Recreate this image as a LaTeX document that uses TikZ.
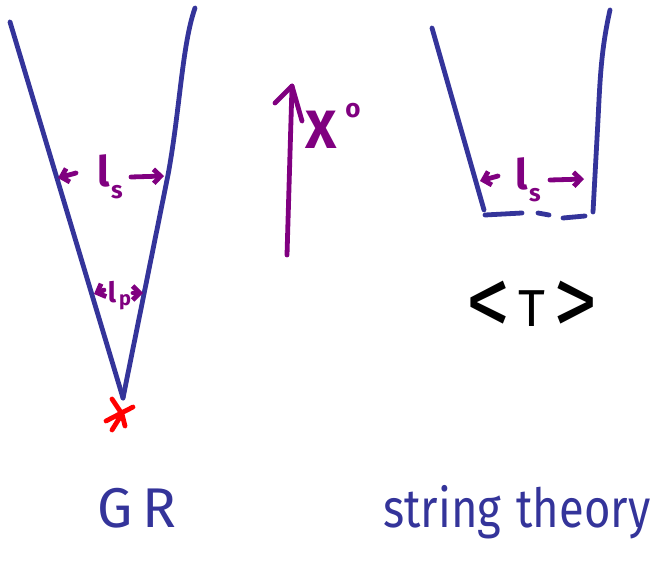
\documentclass[tikz,border=0pt]{standalone}
\usepackage{fontspec}
\setmainfont{Fira Sans}
\usetikzlibrary{arrows.meta}
\definecolor{inkblue}{HTML}{34349A}
\definecolor{inkpurple}{HTML}{800080}
\definecolor{inkred}{HTML}{FF0000}
\tikzset{
  x=1pt,y=-1pt,
  wall/.style={draw=inkblue,line width=4.8pt,line cap=round,line join=round},
  pen/.style={draw=inkpurple,line width=4.8pt,line cap=round,line join=round},
  barb/.style={-{Straight Barb[length=7pt,width=14pt]}},
  lab/.style={text=inkpurple,inner sep=0pt},
  title/.style={text=inkblue,inner sep=0pt},
}
\begin{document}
\begin{tikzpicture}
\useasboundingbox (0,0) rectangle (653,569);
% GR cone
\coordinate (gl0) at (10,22);
\coordinate (gtip) at (123,398);
\coordinate (gr0) at (195,8);
\draw[wall] (gl0) -- (gtip);
\draw[wall] (gr0) .. controls (182,45) and (180,110) .. (168,175) -- (gtip);
% singularity
\coordinate (star) at (122,414);
\draw[draw=inkred,line width=4.8pt,line cap=round,line join=round]
  (112,399) -- (star) -- (112,430)
  (106,421) -- (133,407)
  (star) -- (125,426);
% l_s in GR
\coordinate (a1s) at (76,173); \coordinate (a1e) at (58,178);
\coordinate (a2s) at (131,177); \coordinate (a2e) at (164,176);
\draw[pen,barb] (a1s) -- (a1e);
\draw[pen,barb] (a2s) -- (a2e);
\node[lab,font=\fontsize{42}{42}\bfseries\selectfont] (ls1) at (104,171) {l};
\node[lab,font=\fontsize{24}{24}\bfseries\selectfont] (ls1s) at (117,192) {s};
% l_p
\coordinate (b1s) at (104,290); \coordinate (b1e) at (94,294);
\coordinate (b2s) at (133,293); \coordinate (b2e) at (143,293);
\draw[pen,barb] (b1s) -- (b1e);
\draw[pen,barb] (b2s) -- (b2e);
\node[lab,font=\fontsize{28}{28}\bfseries\selectfont] (lp) at (112,292) {l};
\node[lab,font=\fontsize{20}{20}\bfseries\selectfont] (lps) at (125,302) {p};
% time arrow
\coordinate (t0) at (287,255);
\coordinate (t1) at (292,86);
\draw[pen] (t0) -- (t1);
\draw[pen] (275,103) -- (t1) -- (302,121);
\node[lab,font=\fontsize{54}{54}\bfseries\selectfont] (X) at (321,130) {X};
\node[lab,font=\fontsize{26}{26}\bfseries\selectfont] (deg) at (353,111) {o};
% string theory cone
\coordinate (sl0) at (432,28);
\coordinate (sl1) at (484,210);
\coordinate (sr0) at (610,10);
\coordinate (sr1) at (593,212);
\draw[wall] (sl0) -- (sl1);
\draw[wall] (sr0) .. controls (601,50) and (600,80) .. (598,120) -- (sr1);
\draw[wall] (485,215) -- (522,213);
\draw[wall] (538,213) -- (549,215);
\draw[wall] (563,218) -- (585,216);
% l_s string
\coordinate (c1s) at (498,176); \coordinate (c1e) at (480,181);
\coordinate (c2s) at (550,180); \coordinate (c2e) at (584,179);
\draw[pen,barb] (c1s) -- (c1e);
\draw[pen,barb] (c2s) -- (c2e);
\node[lab,font=\fontsize{42}{42}\bfseries\selectfont] (ls2) at (522,174) {l};
\node[lab,font=\fontsize{24}{24}\bfseries\selectfont] (ls2s) at (535,195) {s};
% <T>
\node[inner sep=0pt,font=\fontsize{52}{52}\selectfont] (T) at (532,308)
  {\scalebox{1.7}[1.9]{<}\hspace{8pt}\raisebox{9pt}{T}\hspace{8pt}\scalebox{1.7}[1.9]{>}};
% titles
\node[title,font=\fontsize{56}{56}\selectfont] (GR) at (137,508) {G\,R};
\node[title,font=\fontsize{54}{54}\selectfont] (ST) at (517,512) {\scalebox{0.84}[1]{string\hspace{18pt}theory}};
\end{tikzpicture}
\end{document}
